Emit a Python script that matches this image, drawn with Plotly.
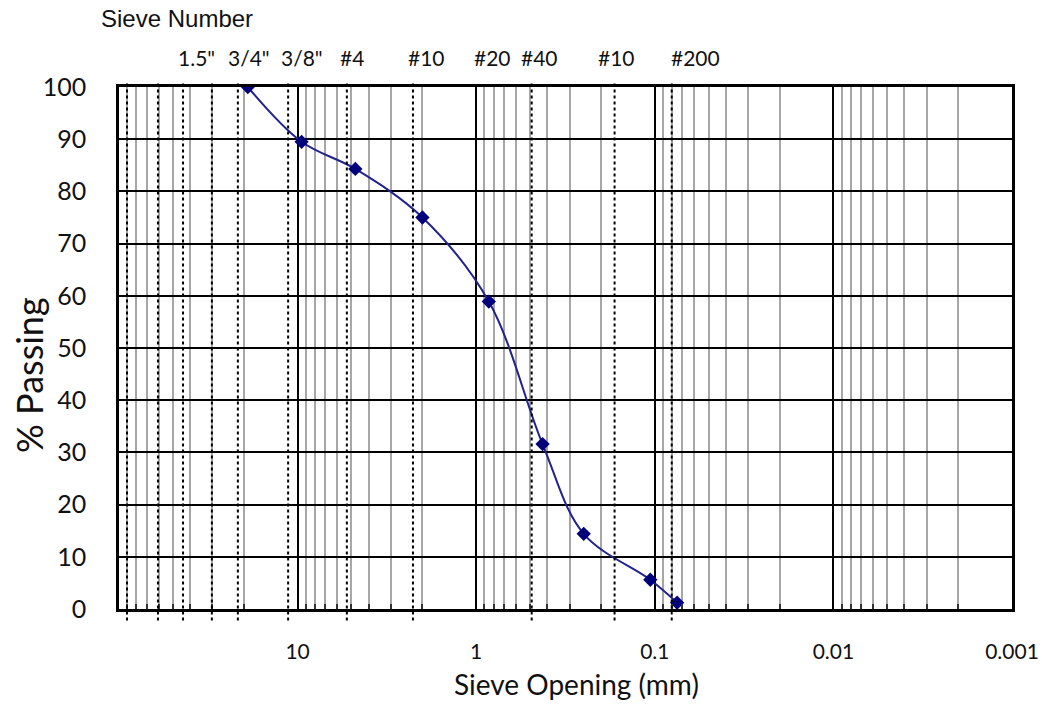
import math
import plotly.graph_objects as go

# Grain-size distribution: sieve opening (mm) vs percent passing
opening_mm = [19.0, 9.5, 4.75, 2.0, 0.85, 0.425, 0.25, 0.106, 0.075]
percent_passing = [100, 89.5, 84.3, 75.0, 58.9, 31.6, 14.4, 5.6, 1.2]

# Dotted reference lines for the sieve sizes
sieve_lines_mm = [90.2, 60.5, 43.8, 30.2, 21.6, 11.3, 5.3, 2.26, 0.489, 0.168, 0.0804]

# Sieve labels along the top edge and where each one is centred (mm)
sieve_labels = ['1.5"', '3/4"', '3/8"', "#4", "#10", "#20", "#40", "#10", "#200"]
label_pos_mm = [36.6, 18.7, 9.46, 4.97, 1.91, 0.807, 0.44, 0.163, 0.059]

# Bottom axis labels
x_tick_vals = [10, 1, 0.1, 0.01, 0.001]
x_tick_text = ["10", "1", "0.1", "0.01", "0.001"]
y_tick_vals = list(range(0, 101, 10))

# Minor grid values 2..9 within each decade
decades = [0.001, 0.01, 0.1, 1, 10]
minor_vals = [k * d for d in decades for k in range(2, 10)]

LABEL_FONT = "Lato"
NAVY_LINE = "#22228f"
NAVY_MARK = "#00007a"

fig = go.Figure()

fig.add_trace(go.Scatter(
    x=opening_mm,
    y=percent_passing,
    mode="lines+markers",
    line=dict(color=NAVY_LINE, width=2, shape="spline", smoothing=1.0),
    marker=dict(symbol="diamond", size=11, color=NAVY_MARK),
    showlegend=False,
    hoverinfo="x+y",
))

# Dotted sieve lines, running a little past the frame top and bottom
for v in sieve_lines_mm:
    fig.add_shape(
        type="line", xref="x", yref="paper",
        x0=v, x1=v, y0=-0.022, y1=1.011,
        line=dict(color="black", width=2, dash="dot"),
        layer="above",
    )

# Sieve labels above the frame (annotation x on a log axis is given as log10)
for txt, pos in zip(sieve_labels, label_pos_mm):
    fig.add_annotation(
        x=math.log10(pos), xref="x", y=1.057, yref="paper",
        text=txt, showarrow=False,
        font=dict(family=LABEL_FONT, size=21, color="#111"),
        xanchor="center", yanchor="middle",
    )

fig.add_annotation(
    x=0.065, xref="paper", y=1.132, yref="paper",
    text="Sieve Number", showarrow=False,
    font=dict(family="Liberation Sans", size=24, color="#111"),
    xanchor="center", yanchor="middle",
)

fig.add_annotation(
    x=0.512, xref="paper", y=-0.144, yref="paper",
    text="Sieve Opening (mm)", showarrow=False,
    font=dict(family=LABEL_FONT, size=28, color="#111"),
    xanchor="center", yanchor="middle",
)

fig.add_annotation(
    x=-0.101, xref="paper", y=0.448, yref="paper",
    text="% Passing", showarrow=False, textangle=-90,
    font=dict(family=LABEL_FONT, size=36, color="#111"),
    xanchor="center", yanchor="middle",
)

fig.update_xaxes(
    type="log",
    range=[2, -3],
    automargin=False,
    tickmode="array",
    tickvals=x_tick_vals,
    ticktext=x_tick_text,
    ticks="",
    ticklabelstandoff=22,
    tickfont=dict(family=LABEL_FONT, size=21, color="#111"),
    showgrid=True,
    gridcolor="black",
    gridwidth=1.5,
    minor=dict(
        tickmode="array",
        tickvals=minor_vals,
        showgrid=True,
        gridcolor="#a6a6a6",
        gridwidth=1.5,
        ticks="inside",
        ticklen=5,
        tickwidth=1.5,
        tickcolor="#333",
    ),
    showline=True,
    mirror=True,
    linecolor="black",
    linewidth=2.5,
    zeroline=False,
)

fig.update_yaxes(
    range=[0, 100],
    automargin=False,
    tickmode="array",
    tickvals=y_tick_vals,
    ticks="",
    ticklabelstandoff=25,
    tickfont=dict(family=LABEL_FONT, size=25, color="#111"),
    showgrid=True,
    gridcolor="black",
    gridwidth=1.5,
    showline=True,
    mirror=True,
    linecolor="black",
    linewidth=2.5,
    zeroline=False,
)

fig.update_layout(
    width=1042,
    height=709,
    margin=dict(l=119, r=30, t=87, b=100, autoexpand=False),
    paper_bgcolor="white",
    plot_bgcolor="white",
)

fig.write_html("out.html")
